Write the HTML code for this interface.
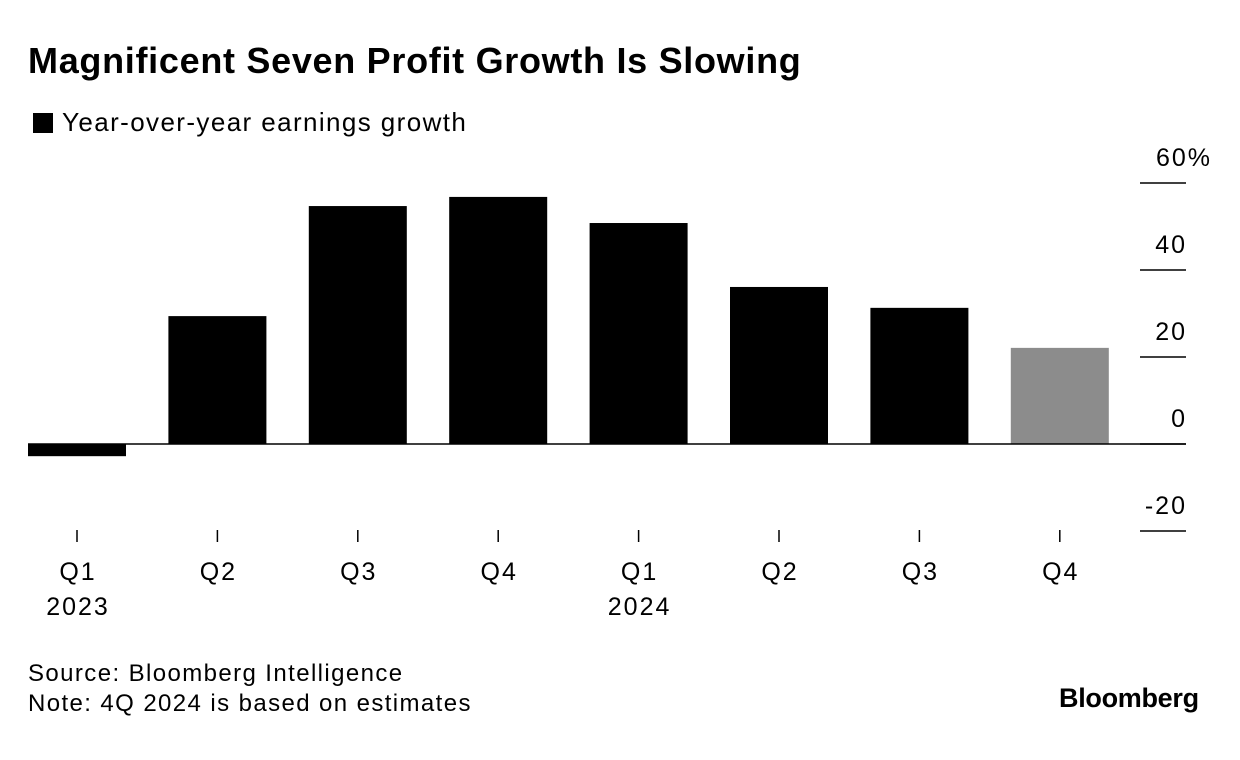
<!DOCTYPE html>
<html><head><meta charset="utf-8"><style>
body{margin:0;background:#fff;font-family:"Liberation Sans",sans-serif;}
#wrap{position:relative;width:1240px;height:760px;overflow:hidden;}
.t{position:absolute;white-space:nowrap;color:#000;}
</style></head><body>
<div id="wrap">
<div class="t" style="left:28px;top:40px;font-size:36px;font-weight:bold;letter-spacing:0.7px;">Magnificent Seven Profit Growth Is Slowing</div>
<div style="position:absolute;left:33px;top:113px;width:20px;height:20px;background:#000;"></div>
<div class="t" style="left:62px;top:107px;font-size:26px;letter-spacing:1.4px;">Year-over-year earnings growth</div>
<svg id="chart" width="1240" height="760" style="position:absolute;left:0;top:0;"></svg>
<div class="t" style="left:28px;top:660px;font-size:24px;letter-spacing:1.4px;">Source: Bloomberg Intelligence</div>
<div class="t" style="left:28px;top:690px;font-size:24px;letter-spacing:1.4px;">Note: 4Q 2024 is based on estimates</div>
<div class="t" style="left:1059px;top:683px;font-size:27px;font-weight:bold;letter-spacing:-0.3px;">Bloomberg</div>
</div>
<script>
const quarters=["Q1","Q2","Q3","Q4","Q1","Q2","Q3","Q4"];
const years=["2023","","","","2024","","",""];
const growth=[-2.8,29.4,54.7,56.8,50.8,36.1,31.3,22.1];
const estimated=[false,false,false,false,false,false,false,true];
const yTicks=[60,40,20,0,-20];
const yTickLabels=["60%","40","20","0","-20"];
const NS="http://www.w3.org/2000/svg";
const svg=document.getElementById('chart');
function y(v){return 444-v*4.35;}
function x(i){return 77+i*140.4;}
const bw=98;
function mk(tag,attrs){const e=document.createElementNS(NS,tag);for(const k in attrs)e.setAttribute(k,attrs[k]);svg.appendChild(e);return e;}
const tf={'font-size':25,'font-family':'Liberation Sans, sans-serif','letter-spacing':2};
yTicks.forEach((v,i)=>{
 const l=mk('line',{x1:1140,x2:1186,y1:y(v),y2:y(v),stroke:'#000','stroke-width':1.5});
 
 
 const t=mk('text',Object.assign({x:i==0?1212:1187,y:y(v)-17,'text-anchor':'end'},tf));
 t.textContent=yTickLabels[i];
 
 
});
growth.forEach((v,i)=>{
 const top=Math.min(y(v),y(0)),h=Math.abs(y(v)-y(0));
 const r=mk('rect',{x:x(i)-bw/2,y:top,width:bw,height:h,fill:estimated[i]?'#8c8c8c':'#000'});
 
 
 const tk=mk('line',{x1:x(i),x2:x(i),y1:530,y2:542,stroke:'#000','stroke-width':1.5});
 
 
 const q=mk('text',Object.assign({x:x(i)+1,y:580,'text-anchor':'middle'},tf));
 q.textContent=quarters[i];
 
 
 if(years[i]){const yt=mk('text',Object.assign({x:x(i)+1,y:615,'text-anchor':'middle'},tf));
 yt.textContent=years[i];
 
 }
});
const z=mk('line',{x1:28,x2:1186,y1:y(0),y2:y(0),stroke:'#000','stroke-width':1.5});


</script>
</body></html>
